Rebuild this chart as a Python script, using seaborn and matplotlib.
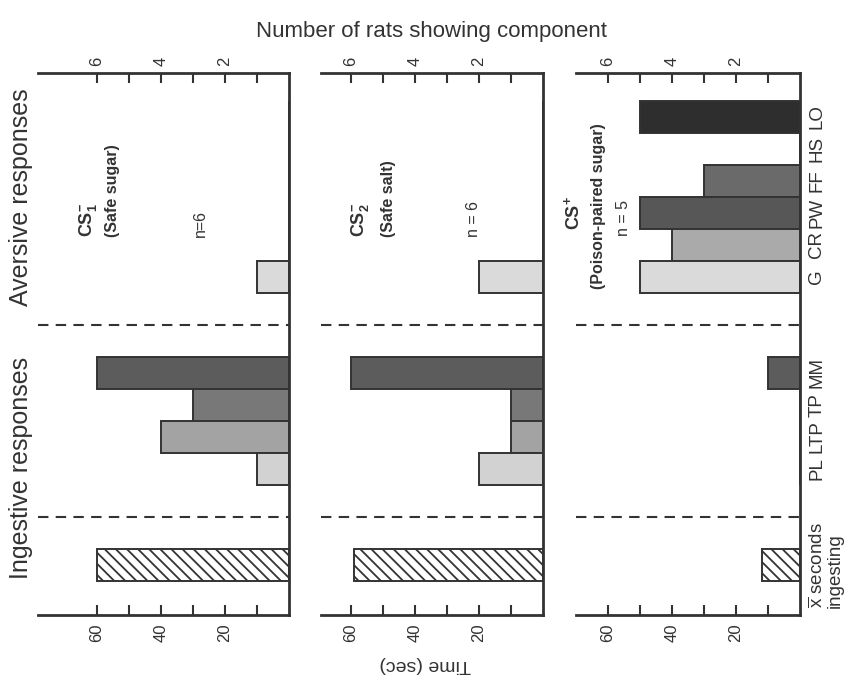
import matplotlib
matplotlib.use("Agg")
import matplotlib.pyplot as plt
import numpy as np
import pandas as pd
import seaborn as sns

# ---------------- data ----------------
components = ["LO", "HS", "FF", "PW", "CR", "G", "MM", "TP", "LTP", "PL"]
component_slots = [1, 2, 3, 4, 5, 6, 9, 10, 11, 12]
xbar_label = "$\\overline{\\mathrm{x}}$ seconds\ningesting"
xbar_slot = 15
divider_slots = [7.5, 13.5]

rats_cs1 = [0, 0, 0, 0, 0, 1, 6, 3, 4, 1]     # CS1- safe sugar, n=6
rats_cs2 = [0, 0, 0, 0, 0, 2, 6, 1, 1, 2]     # CS2- safe salt, n=6
rats_csp = [5, 0, 3, 5, 4, 5, 1, 0, 0, 0]     # CS+ poison-paired sugar, n=5
seconds_cs1 = 60
seconds_cs2 = 59
seconds_csp = 12

rat_ticks = [1, 2, 3, 4, 5, 6]
rat_ticklabels = ["", "2", "", "4", "", "6"]
sec_ticklabels = ["", "20", "", "40", "", "60"]
sec_per_rat_unit = 10

colors = {"LO": "#2e2e2e", "HS": "#888888", "FF": "#6a6a6a", "PW": "#575757",
          "CR": "#aaaaaa", "G": "#dadada", "MM": "#5c5c5c", "TP": "#787878",
          "LTP": "#a3a3a3", "PL": "#d2d2d2", "xbar": "#ffffff"}

panels = [
    dict(rats=rats_cs1, secs=seconds_cs1, xmax=7.84,
         left=38, right=289),
    dict(rats=rats_cs2, secs=seconds_cs2, xmax=6.94,
         left=321, right=543),
    dict(rats=rats_csp, secs=seconds_csp, xmax=7.0,
         left=576, right=800),
]

# ---------------- style ----------------
sns.set_theme(style="white")
plt.rcParams["font.family"] = ["Liberation Sans", "DejaVu Sans"]
plt.rcParams["mathtext.fontset"] = "custom"
plt.rcParams["mathtext.rm"] = "Liberation Sans"
plt.rcParams["mathtext.bf"] = "Liberation Sans:bold"
plt.rcParams["mathtext.it"] = "Liberation Sans:italic"
plt.rcParams["hatch.linewidth"] = 1.3
INK = "#333333"

W, H = 850, 693
fig = plt.figure(figsize=(W / 100, H / 100), dpi=100)
fig.patch.set_facecolor("white")

top_px, bot_px = 72.7, 615
ylim = (16.56, -0.38)

def fx(x):
    return x / W

def fy(y):
    return 1 - y / H

axes = []
for i, p in enumerate(panels):
    ax = fig.add_axes([fx(p["left"]), fy(bot_px), (p["right"] - p["left"]) / W,
                       (bot_px - top_px) / H])
    axes.append(ax)
    df = pd.DataFrame({
        "component": components + ["xbar"],
        "slot": component_slots + [xbar_slot],
        "value": list(p["rats"]) + [p["secs"] / sec_per_rat_unit],
    })
    hue_order = components + ["xbar"]
    sns.barplot(data=df, x="value", y="slot", hue="component", hue_order=hue_order,
                palette=colors, orient="y", native_scale=True, dodge=False,
                width=1.0, errorbar=None, legend=False, edgecolor=INK,
                linewidth=1.4, saturation=1, ax=ax)
    # hatch the mean-seconds bar
    for cont, name in zip(ax.containers, hue_order):
        if name == "xbar":
            for b in cont:
                b.set_hatch("\\\\\\")
                b.set_edgecolor(INK)
    for ys in divider_slots:
        ax.axhline(ys, color=INK, lw=1.5, ls=(0, (5, 3.5)), zorder=0.5)
    ax.set_xlim(p["xmax"], 0)
    ax.set_ylim(*ylim)
    ax.set_xlabel("")
    ax.set_ylabel("")
    for s in ["top", "right", "bottom"]:
        ax.spines[s].set_visible(True)
        ax.spines[s].set_color(INK)
        ax.spines[s].set_linewidth(2)
    ax.spines["left"].set_visible(False)
    ax.set_xticks(rat_ticks)
    ax.set_xticklabels(sec_ticklabels, rotation=90, fontsize=12, color=INK)
    ax.tick_params(axis="x", direction="in", length=7, width=1.5, color=INK,
                   bottom=True, pad=6)
    sec = ax.secondary_xaxis("top")
    sec.set_xticks(rat_ticks)
    sec.set_xticklabels(rat_ticklabels, rotation=90, fontsize=12, color=INK)
    sec.tick_params(axis="x", direction="in", length=7, width=1.5, color=INK, pad=5)
    sec.spines["top"].set_visible(False)
    if i < 2:
        ax.set_yticks([])
    else:
        ax.yaxis.tick_right()
        ax.set_yticks(component_slots + [xbar_slot])
        ax.set_yticklabels(components + [xbar_label], rotation=90, fontsize=13.5,
                           color=INK, va="center", ha="left", linespacing=0.95)
        ax.tick_params(axis="y", length=0, pad=6, right=True, left=False)

# ---------------- texts ----------------
fig.text(fx(432), fy(32), "Number of rats showing component", ha="center",
         va="center", fontsize=16, color=INK)
fig.text(fx(425), fy(665), "Time (sec)", ha="center", va="center", rotation=180,
         fontsize=14, color=INK)
fig.text(fx(21), fy(197), "Aversive responses", ha="center", va="center",
         rotation=90, fontsize=18, color=INK)
fig.text(fx(21), fy(468), "Ingestive responses", ha="center", va="center",
         rotation=90, fontsize=18, color=INK)

kw = dict(rotation=90, ha="center", va="bottom", color=INK)
fig.text(fx(88), fy(237), "$\\mathbf{CS}_{\\mathbf{1}}^{\\mathbf{-}}$", fontsize=13, **kw)
fig.text(fx(113), fy(237), "(Safe sugar)", fontsize=11.5, fontweight="bold", **kw)
fig.text(fx(200), fy(237), "n=6", fontsize=11.5, **kw)

fig.text(fx(360), fy(237), "$\\mathbf{CS}_{\\mathbf{2}}^{\\mathbf{-}}$", fontsize=13, **kw)
fig.text(fx(388), fy(237), "(Safe salt)", fontsize=11.5, fontweight="bold", **kw)
fig.text(fx(473), fy(237), "n = 6", fontsize=11.5, **kw)

fig.text(fx(573), fy(230), "$\\mathbf{CS}^{\\mathbf{+}}$", fontsize=13, **kw)
fig.text(fx(598), fy(289), "(Poison-paired sugar)", fontsize=11.5, fontweight="bold", **kw)
fig.text(fx(623), fy(236), "n = 5", fontsize=11.5, **kw)

fig.savefig("out.png", dpi=100, facecolor="white")
